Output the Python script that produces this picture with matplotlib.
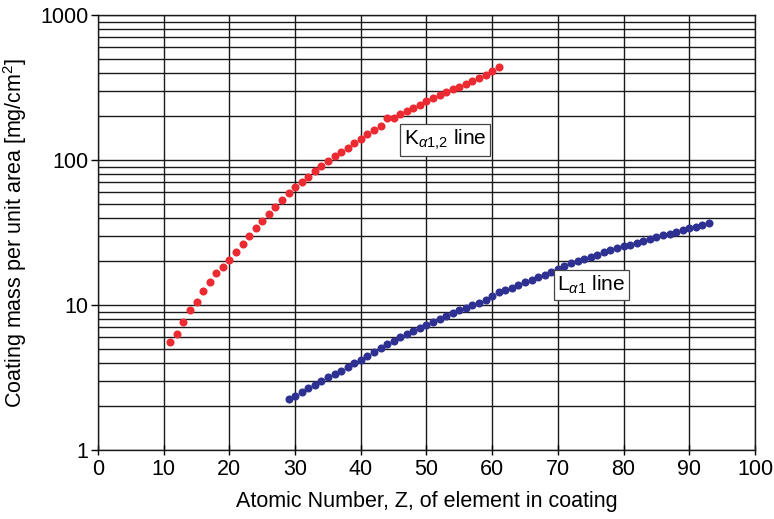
import matplotlib
matplotlib.use("Agg")
import matplotlib.pyplot as plt
from matplotlib.ticker import FixedLocator, FixedFormatter, NullFormatter, LogLocator

plt.rcParams['font.family'] = ['Liberation Sans', 'DejaVu Sans']
plt.rcParams['mathtext.fontset'] = 'custom'
plt.rcParams['mathtext.rm'] = 'Liberation Sans'
plt.rcParams['mathtext.it'] = 'Liberation Sans:italic'

# K alpha 1,2 line data
k_z = list(range(11, 62))
k_mass = [5.56, 6.3, 7.67, 9.24, 10.5, 12.4, 14.5, 16.5, 18.3, 20.3,
          23.1, 26.3, 30.0, 33.8, 38.1, 42.6, 47.6, 53.0, 58.9, 64.8,
          70.9, 76.3, 83.5, 90.9, 98.4, 106, 113.5, 121.5, 130, 140,
          150, 160, 171.6, 195, 195, 207, 219, 229.6, 240, 255,
          268, 281, 293, 309, 319, 333, 351, 368, 386, 413, 436]

# L alpha 1 line data
l_z = list(range(29, 94))
l_mass = [2.24, 2.36, 2.50, 2.66, 2.81, 3.01, 3.20, 3.36, 3.52, 3.72,
          3.96, 4.18, 4.47, 4.77, 5.05, 5.36, 5.67, 5.98, 6.34, 6.65,
          6.98, 7.31, 7.63, 8.00, 8.40, 8.81, 9.19, 9.59, 10.0, 10.4,
          10.9, 11.6, 12.2, 12.7, 13.2, 13.7, 14.3, 14.9, 15.5, 16.2,
          17.0, 17.8, 18.7, 19.4, 20.1, 20.8, 21.5, 22.2, 23.1, 23.8,
          24.6, 25.4, 26.1, 26.9, 27.8, 28.5, 29.3, 30.2, 31.0, 31.9,
          32.9, 33.8, 34.7, 35.5, 37.0]

x_ticks = [0, 10, 20, 30, 40, 50, 60, 70, 80, 90, 100]
y_ticks = [1, 10, 100, 1000]
y_tick_labels = ["1", "10", "100", "1000"]

fig = plt.figure(figsize=(7.74, 5.19), dpi=100)
ax = fig.add_axes([98/774, 1 - 450/519, (755-98)/774, (450-15)/519])
ax.set_yscale('log')
ax.set_xlim(0, 100)
ax.set_ylim(1, 1000)

ax.plot(k_z, k_mass, 'o', color='#EC2A32', markersize=5.8, markeredgewidth=0, zorder=3)
ax.plot(l_z, l_mass, 'o', color='#2E3192', markersize=5.8, markeredgewidth=0, zorder=3)

ax.xaxis.set_major_locator(FixedLocator(x_ticks))
ax.yaxis.set_major_locator(FixedLocator(y_ticks))
ax.yaxis.set_major_formatter(FixedFormatter(y_tick_labels))
ax.yaxis.set_minor_locator(LogLocator(base=10, subs=range(2, 10)))
ax.yaxis.set_minor_formatter(NullFormatter())

ax.grid(True, which='major', axis='both', color='#1a1a1a', linewidth=1.0)
ax.grid(True, which='minor', axis='y', color='#1a1a1a', linewidth=1.0)
ax.set_axisbelow(True)

ax.tick_params(axis='x', direction='inout', length=7, width=1, labelsize=15.5, pad=3)
ax.tick_params(axis='y', which='major', direction='out', length=5, width=1, labelsize=15.5, pad=2)
ax.tick_params(axis='y', which='minor', length=0)
for s in ax.spines.values():
    s.set_color('#1a1a1a')
    s.set_linewidth(1.0)

ax.set_xlabel("Atomic Number, Z, of element in coating", fontsize=15.5, labelpad=8)
ax.set_ylabel("Coating mass per unit area [mg/cm$^2$]", fontsize=15.5, labelpad=8)

bbox = dict(boxstyle='square,pad=0.18', facecolor='white', edgecolor='#444444', linewidth=0.9)
ax.text(52.8, 137, r"K$_{\alpha1{,}2}$ line", fontsize=15, ha='center', va='center', bbox=bbox, zorder=4)
ax.text(75.1, 13.7, r"L$_{\alpha1}$ line", fontsize=15, ha='center', va='center', bbox=bbox, zorder=4)

fig.savefig("out.png", dpi=100)
